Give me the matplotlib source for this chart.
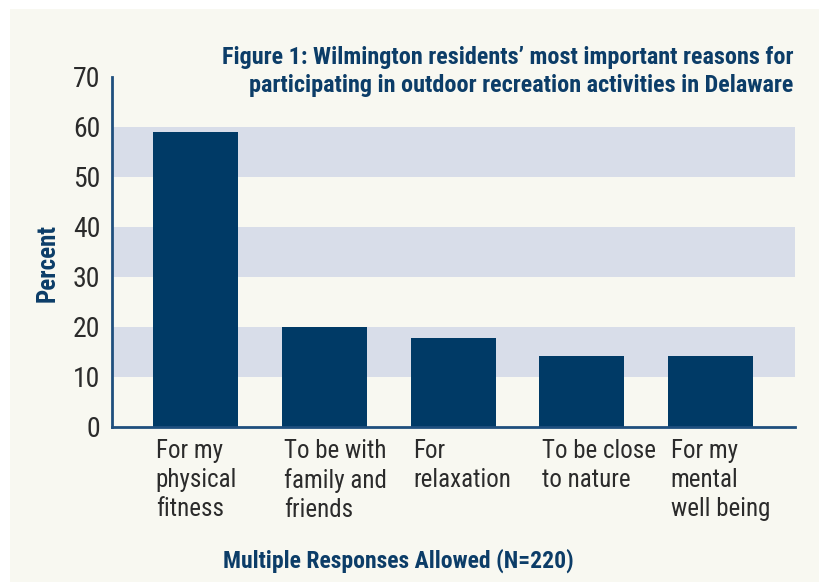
import matplotlib
matplotlib.use("Agg")
import matplotlib.pyplot as plt
from matplotlib.patches import Rectangle
import numpy as np

categories = ["For my\nphysical\nfitness", "To be with\nfamily and\nfriends",
              "For\nrelaxation", "To be close\nto nature", "For my\nmental\nwell being"]
percent = [59.0, 20.0, 17.8, 14.2, 14.2]
yticks = [0, 10, 20, 30, 40, 50, 60, 70]
bands = [(10, 20), (30, 40), (50, 60)]

title = "Figure 1: Wilmington residents\u2019 most important reasons for\nparticipating in outdoor recreation activities in Delaware"
xlabel = "Multiple Responses Allowed (N=220)"
ylabel = "Percent"

FONT = ["Roboto Condensed", "DejaVu Sans"]
plt.rcParams["font.family"] = FONT

navy = "#0c3d68"
bar_c = "#003a66"
band_c = "#d8dde9"
bg = "#f8f8f1"
txt_c = "#2b2b2b"

W, H = 824, 583
fig = plt.figure(figsize=(W / 100, H / 100), dpi=100, facecolor="white")
fig.patches.append(Rectangle((10 / W, 1 - 582 / H), 809 / W, 573 / H,
                             transform=fig.transFigure, facecolor=bg,
                             edgecolor="none", zorder=-10))

ax_l, ax_r = 111.7, 795.0
ax_top, ax_bot = 76.7, 426.7
ax = fig.add_axes([ax_l / W, 1 - ax_bot / H, (ax_r - ax_l) / W, (ax_bot - ax_top) / H])
ax.set_facecolor("none")
ax.set_zorder(1)

x = np.arange(len(categories))
width = 0.66
for lo, hi in bands:
    ax.axhspan(lo, hi, color=band_c, lw=0, zorder=0)
ax.bar(x, percent, width=width, color=bar_c, zorder=2)

ax.set_xlim(-0.652, len(categories) - 1 + 0.656)
ax.set_ylim(0, 70)
ax.set_yticks(yticks)
ax.set_yticklabels([str(t) for t in yticks], fontsize=20, color=txt_c)
ax.tick_params(axis="y", length=0, pad=8)

ax.set_xticks(x - width / 2 + 0.02)
ax.set_xticklabels(categories, fontsize=18, color=txt_c, ha="left",
                   linespacing=1.25)
ax.tick_params(axis="x", length=0, pad=9)

for s in ["top", "right"]:
    ax.spines[s].set_visible(False)
ax.spines["left"].set_color("#1f4f7e")
ax.spines["left"].set_linewidth(2)
ax.spines["bottom"].set_color("#1f4f7e")
ax.spines["bottom"].set_linewidth(2)

fig.text(793 / W, 1 - 92 / H, title, ha="right", va="baseline", fontsize=17.4,
         fontweight="bold", color=navy, linespacing=1.3)
fig.text(398 / W, 1 - 568 / H, xlabel, ha="center", va="baseline", fontsize=17,
         fontweight="bold", color=navy)
fig.text(48 / W, 1 - 263 / H, ylabel, ha="center", va="center", rotation=90,
         fontsize=18, fontweight="bold", color=navy)

fig.savefig("out.png", dpi=100, facecolor="white")
